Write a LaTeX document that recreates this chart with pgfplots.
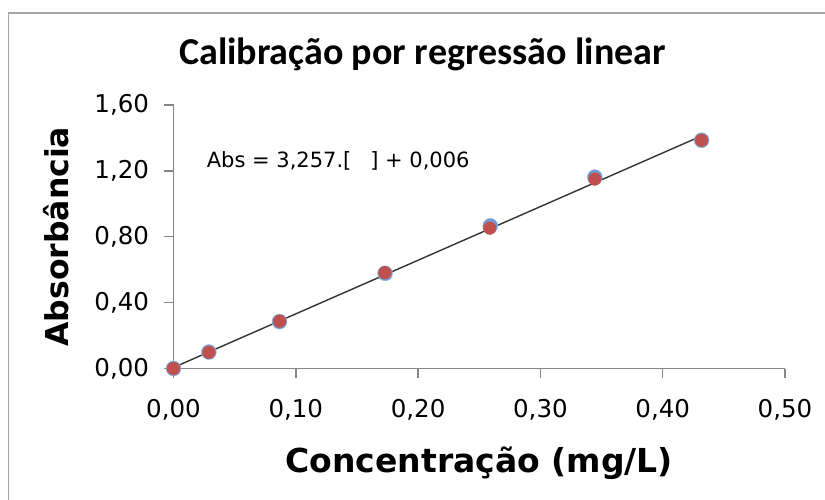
\documentclass[border=0pt]{standalone}
\usepackage{pgfplots}
\pgfplotsset{compat=1.18}
\usepackage{fontspec}
\setmainfont{DejaVu Sans}
\newfontfamily\titlefont{Carlito}

\definecolor{axisgray}{HTML}{868686}
\definecolor{framegray}{HTML}{A6A6A6}
\definecolor{ptblue}{HTML}{6F97D0}
\definecolor{ptred}{HTML}{C0504D}

\begin{document}
\begin{tikzpicture}
\clip (0,0) rectangle (825bp,500bp);
\draw[framegray, line width=1.5bp] (8.5bp,487bp) rectangle (900bp,-50bp);
\begin{axis}[
    at={(173.5bp,131.5bp)}, anchor=south west,
    scale only axis,
    width=611.5bp, height=263.5bp,
    xmin=0, xmax=0.5, ymin=0, ymax=1.6,
    xtick={0,0.1,0.2,0.3,0.4,0.5},
    ytick={0,0.4,0.8,1.2,1.6},
    axis lines=left,
    axis line style={axisgray, line width=1.4bp, -},
    tick style={axisgray, line width=1.4bp},
    tick align=outside,
    major tick length=9bp,
    /pgf/number format/.cd, fixed, fixed zerofill, precision=2, use comma,
        assume math mode=true,
    /pgfplots/.cd,
    ticklabel style={font=\fontsize{24.5bp}{28bp}\selectfont},
    xticklabel style={anchor=base, yshift=-40bp},
    yticklabel style={anchor=east, xshift=-12bp},
    title={\titlefont\bfseries Calibração por regressão linear},
    title style={at={(axis description cs:0.4072,1.130)}, anchor=base,
        font=\fontsize{38bp}{41bp}\selectfont},
    xlabel={\bfseries Concentração (mg/L)},
    xlabel style={at={(axis description cs:0.5,-0.3954)}, anchor=base,
        font=\fontsize{33bp}{36bp}\selectfont},
    ylabel={\bfseries Absorbância},
    ylabel style={at={(axis description cs:-0.172,0.5)}, anchor=base,
        font=\fontsize{31.5bp}{34bp}\selectfont},
    clip=false,
]
% pontos (serie azul, atras)
\addplot[only marks, mark=*, mark size=7.5bp, mark options={fill=ptblue, draw=ptblue!70}]
    coordinates {
    (0,0) (0.0289,0.100) (0.0867,0.285) (0.1730,0.578)
    (0.2590,0.866) (0.3445,1.162) (0.4318,1.386)
};
% pontos (serie vermelha, frente)
\addplot[only marks, mark=*, mark size=6.3bp, mark options={fill=ptred, draw=ptred}]
    coordinates {
    (0,0) (0.0289,0.098) (0.0867,0.287) (0.1728,0.582)
    (0.2586,0.852) (0.3445,1.150) (0.4318,1.386)
};
% reta de regressao: Abs = 3,257 C + 0,006
\addplot[black!80, line width=1.4bp] coordinates {
    (0,0.006) (0.4325,1.4147)
};
\node[anchor=base west, font=\fontsize{21bp}{24bp}\selectfont, inner sep=0]
    at (axis cs:0.0271,1.219) {Abs = 3,257.[\hspace{0.9em}] + 0,006};
\end{axis}
\end{tikzpicture}
\end{document}
